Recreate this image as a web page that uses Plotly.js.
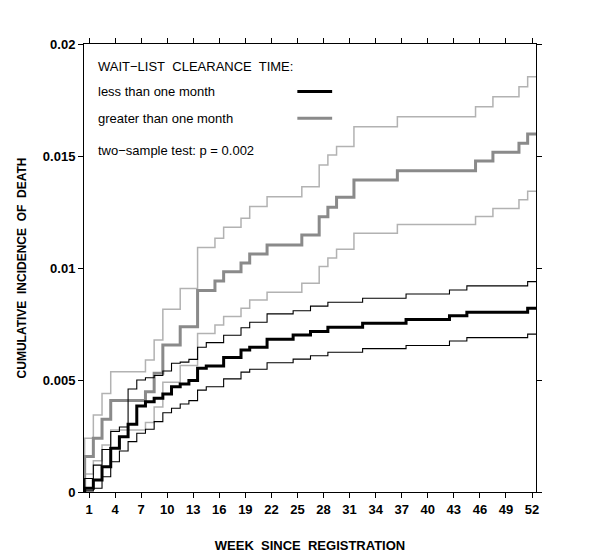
<!DOCTYPE html>
<html>
<head>
<meta charset="utf-8">
<script src="https://cdn.plot.ly/plotly-3.0.1.min.js"></script>
<style>html,body{margin:0;padding:0;background:#fff;}#chart{width:600px;height:554px;}</style>
</head>
<body>
<div id="chart"></div>
<script>
// Step times (weeks) at which the cumulative incidence changes
var weeksLess = [0, 0.5, 1.5, 2.5, 3.5, 4.5, 5.5, 6.5, 7.5, 8.5, 9.5, 10.5, 11.5, 12.5,
  13.5, 14.5, 16.5, 18.5, 19.5, 21.5, 24.5, 26.5, 28.5, 32.5, 37.5, 42.5, 44.5, 51.5, 52.5];
var estLess = [0, 0.00017, 0.00054, 0.00113, 0.00195, 0.00247, 0.00302, 0.00384, 0.00403, 0.00418, 0.00437, 0.0047, 0.00482, 0.00498,
  0.00552, 0.00563, 0.0060, 0.00634, 0.00646, 0.00682, 0.00701, 0.00716, 0.00735, 0.00753, 0.0077, 0.00787, 0.00803, 0.0082, 0.0082];
var lowerLess = [0, 0.00005, 0.00017, 0.00068, 0.00135, 0.00183, 0.00225, 0.00262, 0.0028, 0.00314, 0.00354, 0.00374, 0.00393, 0.00408,
  0.00455, 0.0047, 0.00505, 0.00535, 0.00548, 0.00577, 0.00593, 0.00608, 0.00624, 0.0064, 0.00654, 0.00674, 0.00689, 0.00705, 0.00705];
var upperLess = [0, 0.0006, 0.0012, 0.0019, 0.0027, 0.0029, 0.0046, 0.0050, 0.0051, 0.0052, 0.0054, 0.00575, 0.0058, 0.00592,
  0.00646, 0.00667, 0.0070, 0.00733, 0.00758, 0.00795, 0.00809, 0.0083, 0.00847, 0.00865, 0.00884, 0.00902, 0.0092, 0.00939, 0.00939];

var weeksGreater = [0, 0.5, 1.5, 2.5, 3.5, 7.5, 8.5, 9.5, 11.5, 13.5, 15.5, 16.5, 18.5, 19.5, 21.5,
  25.5, 27.5, 28.5, 29.5, 31.5, 36.5, 45.5, 47.5, 50.5, 51.5, 52.5];
var estGreater = [0, 0.00158, 0.0024, 0.00325, 0.00408, 0.00448, 0.0053, 0.00656, 0.00738, 0.009, 0.00942, 0.00983, 0.01022, 0.01063, 0.01103,
  0.01147, 0.01229, 0.01271, 0.01316, 0.01393, 0.01434, 0.01478, 0.01517, 0.01557, 0.01598, 0.01598];
var upperGreater = [0, 0.0024, 0.00344, 0.0044, 0.00537, 0.00589, 0.00679, 0.00816, 0.00909, 0.01092, 0.01133, 0.01182, 0.01222, 0.01274, 0.01318,
  0.01363, 0.0146, 0.01504, 0.01542, 0.01631, 0.01675, 0.0172, 0.01765, 0.01809, 0.01854, 0.01854];
var lowerGreater = [0, 0.0008, 0.0014, 0.0021, 0.00277, 0.0031, 0.0038, 0.0049, 0.00565, 0.00708, 0.00746, 0.00783, 0.0082, 0.00857, 0.00892,
  0.00932, 0.01007, 0.01045, 0.01084, 0.01155, 0.01194, 0.0123, 0.01266, 0.01305, 0.01343, 0.01343];

var weekTicks = [1, 4, 7, 10, 13, 16, 19, 22, 25, 28, 31, 34, 37, 40, 43, 46, 49, 52];
var legendTitle = "WAIT\u2212LIST\u00a0 CLEARANCE\u00a0 TIME:";
var groupNames = ["less than one month", "greater than one month"];
var testText = "two\u2212sample test: p = 0.002";

var BLACK = "#000000", GRAY = "#8a8a8a", LIGHT = "#b2b2b2";
function stepTrace(x, y, color, width, name) {
  return {x: x, y: y, type: "scatter", mode: "lines", name: name,
    line: {shape: "hv", color: color, width: width}, hoverinfo: "skip", showlegend: false};
}
var data = [
  stepTrace(weeksGreater, upperGreater, LIGHT, 1.5, "upper"),
  stepTrace(weeksGreater, lowerGreater, LIGHT, 1.5, "lower"),
  stepTrace(weeksGreater, estGreater, GRAY, 3, groupNames[1]),
  stepTrace(weeksLess, upperLess, BLACK, 1.1, "upper"),
  stepTrace(weeksLess, lowerLess, BLACK, 1.1, "lower"),
  stepTrace(weeksLess, estLess, BLACK, 3, groupNames[0])
];

var tickFont = {family: "Liberation Sans, Arial, sans-serif", size: 13, color: "#000", weight: "bold"};
var yTitleFont = {family: "Liberation Sans, Arial, sans-serif", size: 12, color: "#000", weight: "bold"};
var textFont = {family: "Liberation Sans, Arial, sans-serif", size: 13, color: "#000"};

var layout = {
  width: 600, height: 554,
  margin: {l: 84, r: 64, t: 44, b: 62},
  paper_bgcolor: "#fff", plot_bgcolor: "#fff",
  showlegend: false,
  xaxis: {
    range: [0.424, 52.46], tickvals: weekTicks, ticktext: weekTicks.map(String),
    ticks: "outside", ticklen: 5, tickwidth: 1, tickcolor: "#000",
    showline: true, linecolor: "#000", linewidth: 1, mirror: "ticks",
    showgrid: false, zeroline: false, tickfont: tickFont,
    title: {text: "WEEK\u00a0 SINCE\u00a0 REGISTRATION", font: tickFont, standoff: 25}
  },
  yaxis: {
    range: [0, 0.02], tickvals: [0, 0.005, 0.01, 0.015, 0.02], ticktext: ["0", "0.005", "0.01", "0.015", "0.02"],
    ticks: "outside", ticklen: 5, tickwidth: 1, tickcolor: "#000",
    showline: true, linecolor: "#000", linewidth: 1, mirror: "ticks",
    showgrid: false, zeroline: false, tickfont: tickFont,
    title: {text: "CUMULATIVE\u00a0 INCIDENCE\u00a0 OF\u00a0 DEATH", font: yTitleFont, standoff: 13}
  },
  annotations: [
    {xref: "paper", yref: "paper", x: 0.027, y: 0.95, xanchor: "left", yanchor: "middle", text: legendTitle, showarrow: false, font: textFont},
    {xref: "paper", yref: "paper", x: 0.027, y: 0.894, xanchor: "left", yanchor: "middle", text: groupNames[0], showarrow: false, font: textFont},
    {xref: "paper", yref: "paper", x: 0.027, y: 0.834, xanchor: "left", yanchor: "middle", text: groupNames[1], showarrow: false, font: textFont},
    {xref: "paper", yref: "paper", x: 0.027, y: 0.762, xanchor: "left", yanchor: "middle", text: testText, showarrow: false, font: textFont}
  ],
  shapes: [
    {type: "line", xref: "paper", yref: "paper", x0: 0.472, x1: 0.549, y0: 0.894, y1: 0.894, line: {color: BLACK, width: 3}},
    {type: "line", xref: "paper", yref: "paper", x0: 0.472, x1: 0.549, y0: 0.834, y1: 0.834, line: {color: GRAY, width: 3}}
  ]
};
Plotly.newPlot("chart", data, layout, {displayModeBar: false, staticPlot: true});
</script>
</body>
</html>
